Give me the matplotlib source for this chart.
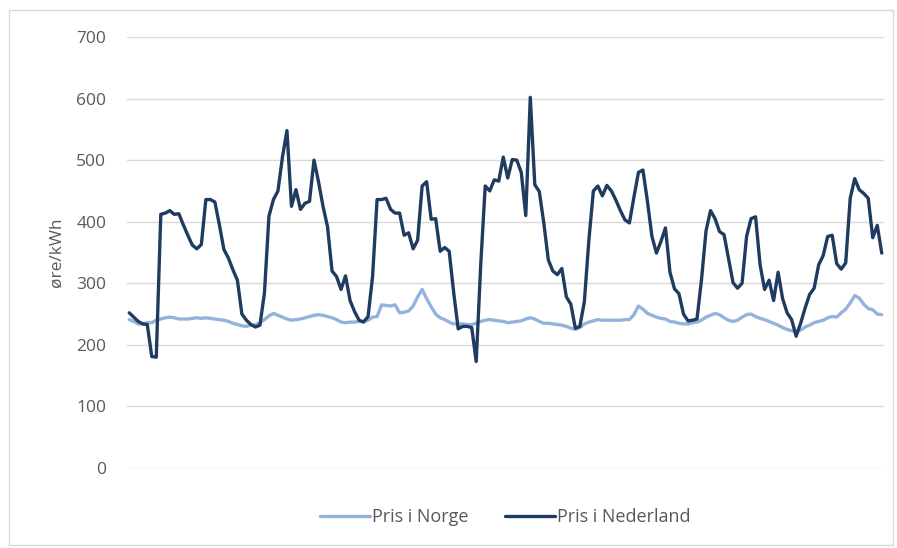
import numpy as np
import matplotlib
matplotlib.use("Agg")
import matplotlib.pyplot as plt
from matplotlib.patches import Rectangle

# hourly prices over one week, øre/kWh
pris_norge = [
    241, 238, 234, 234, 236, 236, 240, 242, 244, 245, 244, 242, 242, 242, 243, 244,
    243, 244, 243, 242, 241, 240, 238, 235, 233, 231, 230, 232, 233, 236, 241, 247,
    251, 248, 245, 242, 240, 241, 242, 244, 246, 248, 249, 248, 246, 244, 241, 237,
    236, 237, 237, 238, 238, 240, 245, 246, 265, 264, 263, 265, 252, 253, 255, 263,
    278, 290, 275, 262, 250, 244, 241, 237, 234, 234, 234, 233, 233, 235, 238, 240,
    241, 240, 239, 238, 236, 237, 238, 239, 242, 244, 242, 238, 235, 235, 234, 233,
    232, 230, 227, 225, 228, 234, 237, 239, 241, 240, 240, 240, 240, 240, 241, 241,
    249, 263, 258, 251, 248, 245, 243, 242, 238, 237, 235, 234, 234, 236, 237, 240,
    245, 248, 251, 249, 244, 240, 238, 240, 245, 249, 250, 246, 243, 241, 238, 235,
    232, 228, 225, 223, 222, 224, 229, 232, 236, 238, 240, 244, 246, 245, 252, 258,
    268, 280, 276, 266, 259, 257, 250, 249,
]
pris_nederland = [
    252, 245, 238, 234, 233, 181, 180, 412, 414, 418, 412, 413, 395, 378, 362, 356,
    363, 436, 436, 432, 395, 355, 341, 322, 305, 250, 240, 233, 229, 232, 284, 409,
    436, 450, 505, 548, 425, 452, 420, 430, 433, 500, 465, 425, 392, 320, 311, 290,
    312, 272, 254, 240, 237, 246, 311, 436, 436, 438, 420, 414, 414, 378, 382, 356,
    370, 458, 465, 404, 405, 352, 358, 352, 285, 226, 230, 230, 228, 173, 330, 458,
    450, 468, 466, 505, 471, 501, 500, 480, 410, 602, 460, 449, 398, 338, 320, 314,
    324, 278, 266, 227, 230, 270, 370, 450, 458, 442, 459, 450, 435, 418, 403, 398,
    440, 480, 484, 433, 376, 349, 368, 390, 318, 291, 283, 250, 239, 240, 242, 306,
    385, 418, 405, 384, 379, 340, 301, 292, 300, 376, 405, 408, 330, 290, 305, 272,
    318, 275, 252, 241, 214, 235, 260, 282, 292, 330, 345, 376, 378, 332, 323, 333,
    438, 470, 452, 446, 438, 374, 394, 349,
]
series_labels = ["Pris i Norge", "Pris i Nederland"]
y_ticks = [0, 100, 200, 300, 400, 500, 600, 700]

plt.rcParams["font.family"] = ["Open Sans", "DejaVu Sans"]

fig = plt.figure(figsize=(8.97, 5.48), dpi=100)
fig.patches.append(Rectangle((9 / 897, 3 / 548), 884 / 897, 535 / 548, transform=fig.transFigure,
                             fill=False, edgecolor="#d9d9d9", linewidth=1.0))
ax = fig.add_axes([127 / 897, 1 - 468 / 548, 757 / 897, 431 / 548])

hours = np.arange(len(pris_norge))
ax.plot(hours, pris_norge, color="#93b3dc", linewidth=2.4, label=series_labels[0], solid_capstyle="round")
ax.plot(hours, pris_nederland, color="#1f3b60", linewidth=2.4, label=series_labels[1], solid_capstyle="round")

ax.set_xlim(-0.5, len(hours) - 0.5)
ax.set_ylim(0, 700)
ax.set_yticks(y_ticks)
ax.set_xticks([])
ax.grid(axis="y", color="#d9d9d9", linewidth=1.0)
ax.set_axisbelow(True)
for spine in ax.spines.values():
    spine.set_visible(False)
ax.tick_params(axis="y", length=0, pad=15, labelsize=12.5, labelcolor="#595959")
ax.set_ylabel("øre/kWh", fontsize=12.5, color="#595959")
ax.yaxis.set_label_coords(-0.083, 0.5)

fig.legend(loc="center", bbox_to_anchor=(505 / 897, 1 - 517 / 548), ncol=2, frameon=False,
           fontsize=13, handlelength=2.8, handletextpad=0.1, columnspacing=2.0, labelcolor="#595959")

fig.savefig("out.png", dpi=100)
